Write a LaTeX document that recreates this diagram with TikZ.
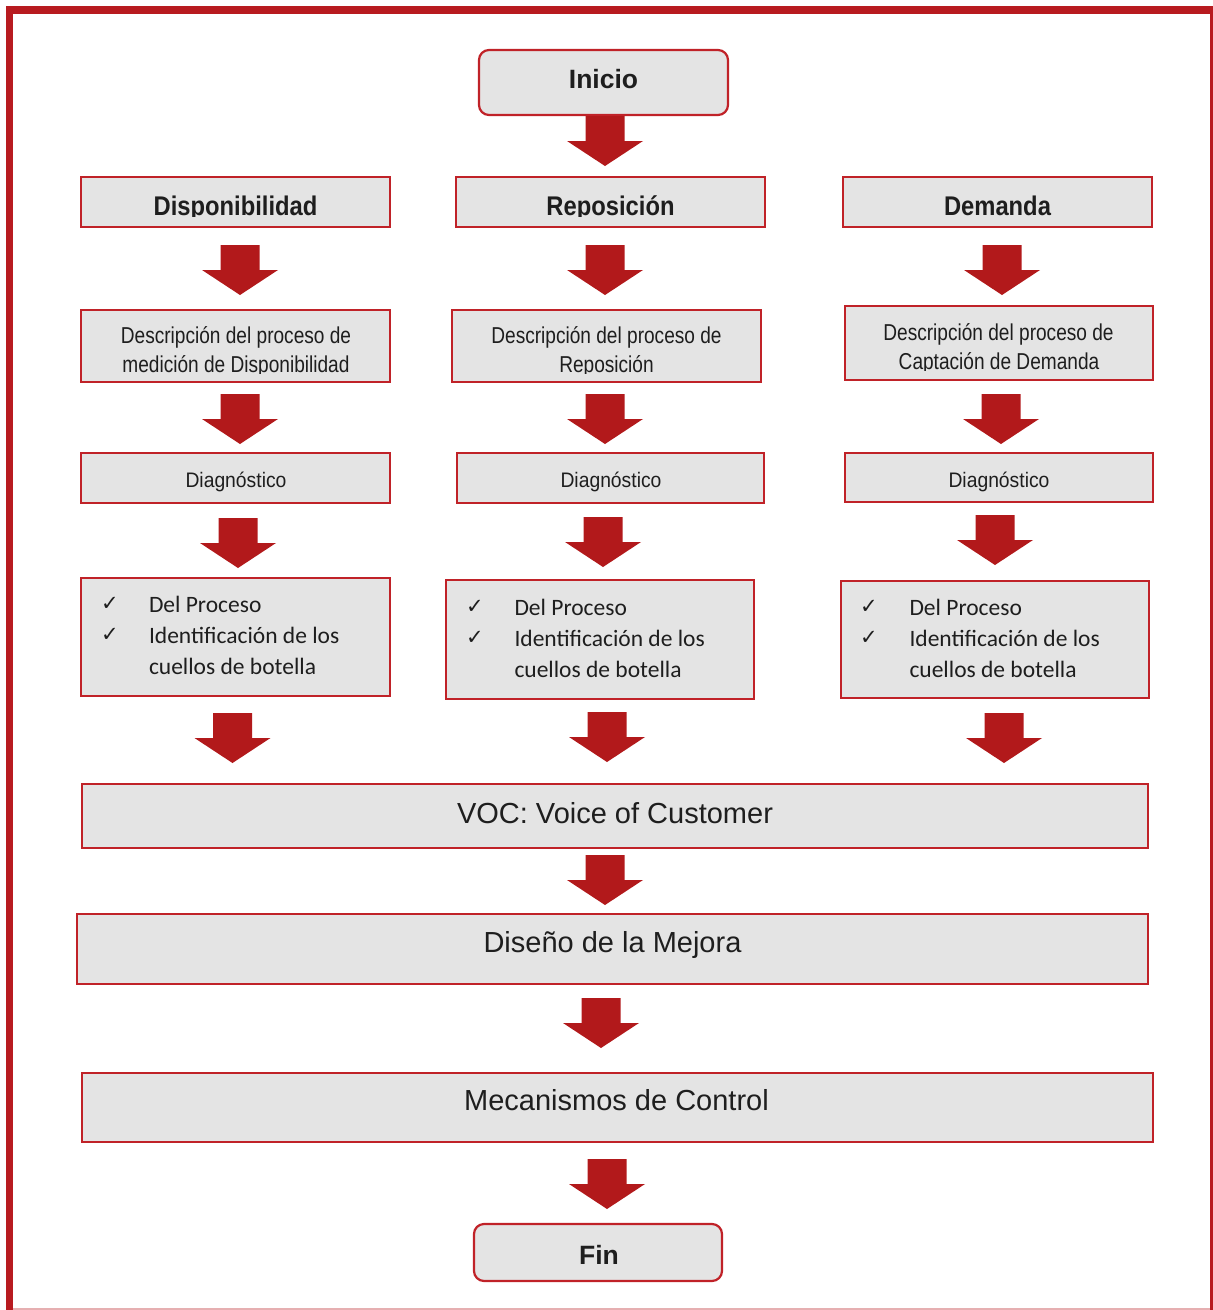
\documentclass[tikz,border=0pt]{standalone}
\usepackage{fontspec}
\setmainfont{Liberation Sans}
\newfontfamily\hdrfont[FakeStretch=0.88]{Liberation Sans}
\newfontfamily\descfont[FakeStretch=0.83]{Liberation Sans}
\newfontfamily\diagfont[FakeStretch=0.92]{Liberation Sans}
\newfontfamily\listfont{Carlito}
\newfontfamily\symfont{DejaVu Sans}
\newcommand\fs[1]{\fontsize{#1pt}{#1pt}\selectfont}

\definecolor{marco}{RGB}{184,27,32}
\definecolor{borde}{RGB}{192,34,40}
\definecolor{gris}{RGB}{228,228,228}
\definecolor{flechaR}{RGB}{178,25,27}
\definecolor{tinta}{RGB}{30,30,30}

\tikzset{
  caja/.style={draw=borde, line width=2.2pt, fill=gris, rectangle, inner sep=0pt, outer sep=0pt},
  cajar/.style={caja, rounded corners=10pt},
  txt/.style={inner sep=0pt, outer sep=0pt, anchor=base, text=tinta},
  hdr/.style={txt, font=\hdrfont\bfseries\fs{27}},
  desc/.style={txt, font=\descfont\fs{23}},
  diag/.style={txt, font=\diagfont\fs{21}},
  lista/.style={txt, anchor=base west, font=\listfont\fs{23.5}},
  tick/.style={txt, anchor=base west, font=\symfont\fs{21}},
  grande/.style={txt, font=\fs{29}},
  term/.style={txt, font=\bfseries\fs{26.5}},
  flecha/.pic={\fill[flechaR] (-19.5,0) -- (19.5,0) -- (19.5,25) -- (38,25)
                -- (0,50) -- (-38,25) -- (-19.5,25) -- cycle;}
}

\begin{document}
\begin{tikzpicture}[x=1pt,y=-1pt]
\useasboundingbox (0,0) rectangle (1213,1310);

% page frame
\fill[marco] (6,6) rectangle (1213,14);
\fill[marco] (6,6) rectangle (13,1310);
\fill[marco] (1210,6) rectangle (1213,1310);
\draw[marco!35, line width=1.5pt] (13,1309) -- (1210,1309);

% start
\node[cajar, minimum width=249pt, minimum height=65pt] (inicio) at (603.5,82.5) {};
\node[term] (tinicio) at (603.5,88) {Inicio};

% column headers
\node[caja, minimum width=309pt, minimum height=50pt] (disp) at (235.5,202) {};
\node[caja, minimum width=309pt, minimum height=50pt] (repo) at (610.5,202) {};
\node[caja, minimum width=309pt, minimum height=50pt] (dem)  at (997.5,202) {};
\begin{scope}
  \clip (81,177) rectangle (1152,216.5);
  \node[hdr] (tdisp) at (235.5,215) {Disponibilidad};
  \node[hdr] (trepo) at (610.5,215) {Reposición};
  \node[hdr] (tdem)  at (997.5,215) {Demanda};
\end{scope}

% process descriptions
\node[caja, minimum width=309pt, minimum height=72pt] (ddisp) at (235.5,346) {};
\node[caja, minimum width=309pt, minimum height=72pt] (drepo) at (606.5,346) {};
\node[caja, minimum width=308pt, minimum height=74pt] (ddem)  at (999,343) {};
\node[desc] (ddisp1) at (236,343.5) {Descripción del proceso de};
\node[desc] (drepo1) at (606.5,343.5) {Descripción del proceso de};
\node[desc] (ddem1)  at (998.5,340) {Descripción del proceso de};
\begin{scope}
  \clip (81,352) rectangle (761,373.5);
  \node[desc] (ddisp2) at (236,372.5) {medición de Disponibilidad};
  \node[desc] (drepo2) at (606.5,372.5) {Reposición};
\end{scope}
\begin{scope}
  \clip (845,348) rectangle (1153,370);
  \node[desc] (ddem2) at (999,369) {Captación de Demanda};
\end{scope}

% diagnosis
\node[caja, minimum width=309pt, minimum height=50pt] (gdisp) at (235.5,478) {};
\node[caja, minimum width=307pt, minimum height=50pt] (grepo) at (610.5,478) {};
\node[caja, minimum width=308pt, minimum height=49pt] (gdem)  at (999,477.5) {};
\node[diag] (tgdisp) at (236,487) {Diagnóstico};
\node[diag] (tgrepo) at (611,487) {Diagnóstico};
\node[diag] (tgdem)  at (999,487) {Diagnóstico};

% findings
\node[caja, minimum width=309pt, minimum height=118pt] (ldisp) at (235.5,637) {};
\node[caja, minimum width=308pt, minimum height=119pt] (lrepo) at (600,639.5) {};
\node[caja, minimum width=308pt, minimum height=117pt] (ldem)  at (995,639.5) {};
\node[tick]  (kdisp1) at (101,610) {✓};
\node[tick]  (kdisp2) at (101,641) {✓};
\node[lista] (ldisp1) at (149,612) {Del Proceso};
\node[lista] (ldisp2) at (149,643) {Identificación de los};
\node[lista] (ldisp3) at (149,674) {cuellos de botella};
\node[tick]  (krepo1) at (466,613) {✓};
\node[tick]  (krepo2) at (466,644) {✓};
\node[lista] (lrepo1) at (514.5,615) {Del Proceso};
\node[lista] (lrepo2) at (514.5,646) {Identificación de los};
\node[lista] (lrepo3) at (514.5,677) {cuellos de botella};
\node[tick]  (kdem1) at (860,613) {✓};
\node[tick]  (kdem2) at (860,644) {✓};
\node[lista] (ldem1) at (909.5,615) {Del Proceso};
\node[lista] (ldem2) at (909.5,646) {Identificación de los};
\node[lista] (ldem3) at (909.5,677) {cuellos de botella};

% wide stages
\node[caja, minimum width=1066pt, minimum height=64pt] (voc) at (615,816) {};
\node[grande] (tvoc) at (615,823) {VOC: Voice of Customer};
\node[caja, minimum width=1071pt, minimum height=70pt] (diseno) at (612.5,949) {};
\node[grande] (tdiseno) at (612.5,952) {Diseño de la Mejora};
\node[caja, minimum width=1071pt, minimum height=69pt] (mec) at (617.5,1107.5) {};
\node[grande] (tmec) at (616.5,1110.5) {Mecanismos de Control};

% end
\node[cajar, minimum width=248pt, minimum height=57pt] (fin) at (598,1252.5) {};
\node[term] (tfin) at (599,1264) {Fin};

% block arrows
\pic at (605,116) {flecha};
\pic at (240,245) {flecha};
\pic at (605,245) {flecha};
\pic at (1002,245) {flecha};
\pic at (240,394) {flecha};
\pic at (605,394) {flecha};
\pic at (1001,394) {flecha};
\pic at (238,518) {flecha};
\pic at (603,517) {flecha};
\pic at (995,515) {flecha};
\pic at (232.5,713) {flecha};
\pic at (607,712) {flecha};
\pic at (1004,713) {flecha};
\pic at (605,855) {flecha};
\pic at (601,998) {flecha};
\pic at (607,1159) {flecha};
\end{tikzpicture}
\end{document}
